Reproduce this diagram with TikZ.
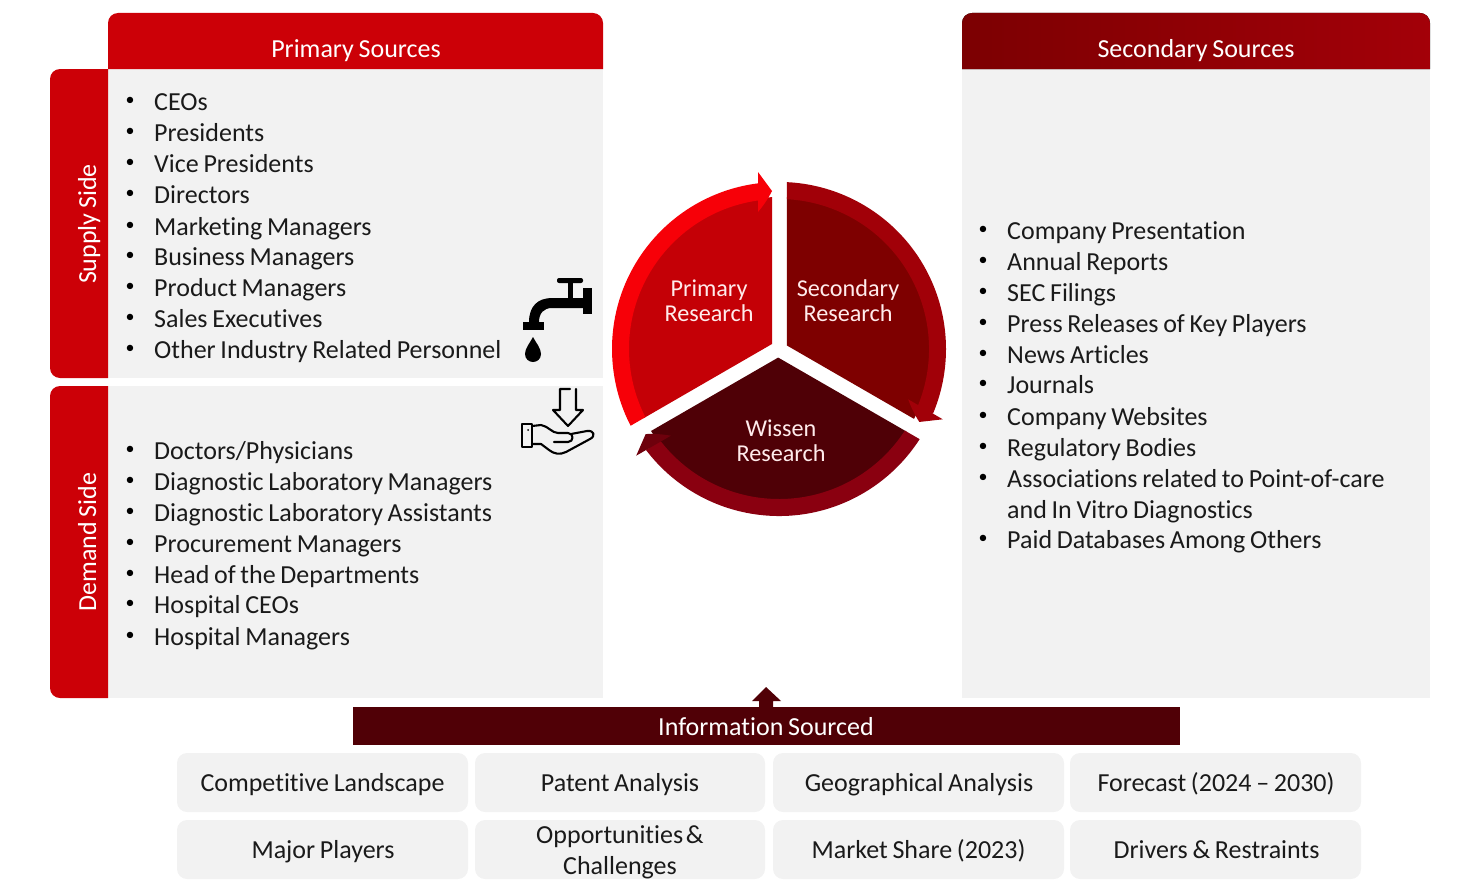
\documentclass[tikz,border=0pt]{standalone}
\usepackage{fontspec}
\setmainfont{Carlito}[WordSpace=0.8,Ligatures=CommonOff]
\definecolor{redA}{HTML}{CC0007}
\definecolor{darkbar}{HTML}{500006}
\definecolor{panel}{HTML}{F2F2F2}
\definecolor{secA}{HTML}{7C0002}
\definecolor{secB}{HTML}{A30008}
\definecolor{ink}{HTML}{1A1A1A}
\definecolor{wA}{HTML}{4F0006}
\definecolor{wB}{HTML}{8A0010}
\definecolor{wC}{HTML}{6E000C}
\definecolor{sA}{HTML}{7E0000}
\definecolor{sB}{HTML}{A10008}
\definecolor{pA}{HTML}{C40006}
\definecolor{pB}{HTML}{F70008}
\newcommand{\fs}{\fontsize{26}{31}\selectfont}
\newcommand{\li}[4]{%
  \node[bul] (#3b) at (#1-24,#2) {•};
  \node[item] (#3) at (#1,#2+9) {#4};}
% sector: rotation, inner, ring, head colours
\newcommand{\sector}[4]{%
  \begin{scope}[shift={(779,349)},rotate=#1]
    \begin{scope}
      \clip (-7,-5) -- (-7,-300) -- (-400,-300) -- (-400,195) -- (-353,195) -- cycle;
      \fill[#2] (0,0) circle[radius=152];
      \fill[#3] (130:167) arc[start angle=130,end angle=262.8,radius=167] -- (262.8:150) arc[start angle=262.8,end angle=130,radius=150] -- cycle;
    \end{scope}
    \fill[#4] (-21,-177) -- (-7,-158) .. controls (-11,-150) and (-16,-143) .. (-21,-137) -- (-21,-160) -- cycle;
  \end{scope}}
\tikzset{
  item/.style={anchor=base west,inner sep=0pt,text=ink,font=\fs},
  bul/.style={anchor=center,inner sep=0pt,text=black,font=\fontsize{18}{20}\selectfont},
  head/.style={text=white,font=\fs,inner sep=0pt,anchor=base},
  side/.style={text=white,font=\fs,inner sep=0pt,rotate=90,anchor=base},
  tile/.style={fill=panel,rounded corners=10pt,draw=none},
  tiletext/.style={text=ink,font=\fs,inner sep=0pt,anchor=base},
  sect/.style={text=white!92!red,font=\fontsize{24.2}{25}\selectfont,inner sep=0pt,align=center},
  icon/.style={line width=2.1pt,draw=black,line join=round,line cap=round}
}
\begin{document}
\begin{tikzpicture}[x=1pt,y=1pt,yscale=-1]
\useasboundingbox (0,0) rectangle (1474,883);
% panels
\fill[panel] (108,69) rectangle (603,378);
\fill[panel] (108,386) rectangle (603,698);
\fill[panel] (962,69) rectangle (1430,698);
% headers
\fill[redA] (108,69) -- (108,23) arc[start angle=180,end angle=270,radius=10] -- (593,13) arc[start angle=270,end angle=360,radius=10] -- (603,69) -- cycle;
\fill[redA] (108,69) -- (60,69) arc[start angle=270,end angle=180,radius=10] -- (50,368) arc[start angle=180,end angle=90,radius=10] -- (108,378) -- cycle;
\fill[redA] (108,386) -- (60,386) arc[start angle=270,end angle=180,radius=10] -- (50,688) arc[start angle=180,end angle=90,radius=10] -- (108,698) -- cycle;
\fill[left color=secA,right color=secB] (962,69) -- (962,23) arc[start angle=180,end angle=270,radius=10] -- (1420,13) arc[start angle=270,end angle=360,radius=10] -- (1430,69) -- cycle;
\node[head] (ps) at (356,57) {Primary Sources};
\node[head] (ss) at (1196,57) {Secondary Sources};
\node[side] (sup) at (96,224) {Supply Side};
\node[side] (dem) at (96,542) {Demand Side};
% primary list
\li{154}{101}{a1}{CEOs}
\li{154}{132}{a2}{Presidents}
\li{154}{163}{a3}{Vice Presidents}
\li{154}{194}{a4}{Directors}
\li{154}{226}{a5}{Marketing Managers}
\li{154}{256}{a6}{Business Managers}
\li{154}{287}{a7}{Product Managers}
\li{154}{318}{a8}{Sales Executives}
\li{154}{349}{a9}{Other Industry Related Personnel}
\li{154}{450}{b1}{Doctors/Physicians}
\li{154}{481}{b2}{Diagnostic Laboratory Managers}
\li{154}{512}{b3}{Diagnostic Laboratory Assistants}
\li{154}{543}{b4}{Procurement Managers}
\li{154}{574}{b5}{Head of the Departments}
\li{154}{604}{b6}{Hospital CEOs}
\li{154}{636}{b7}{Hospital Managers}
% secondary list
\li{1007}{230}{c1}{Company Presentation}
\li{1007}{261}{c2}{Annual Reports}
\li{1007}{292}{c3}{SEC Filings}
\li{1007}{323}{c4}{Press Releases of Key Players}
\li{1007}{354}{c5}{News Articles}
\li{1007}{384}{c6}{Journals}
\li{1007}{416}{c7}{Company Websites}
\li{1007}{447}{c8}{Regulatory Bodies}
\li{1007}{478}{c9}{Associations related to Point-of-care}
\node[item] (c9x) at (1007,518) {and In Vitro Diagnostics};
\li{1007}{539}{c10}{Paid Databases Among Others}
% faucet icon
\fill[black,rounded corners=2pt] (557,278) rectangle (583,283);
\fill[black] (568,280) rectangle (573,300);
\fill[black] (583,288) rectangle (592,314);
\fill[black] (584,298) -- (552,298) .. controls (538,298) and (529,306) .. (529,322) -- (539,322) .. controls (539,313) and (544,308) .. (552,308) -- (584,308) -- cycle;
\fill[black] (523,322) rectangle (544,330);
\fill[black] (533,337) .. controls (530,343) and (525,348) .. (525,354) .. controls (525,359) and (529,362) .. (533,362) .. controls (537,362) and (541,359) .. (541,354) .. controls (541,348) and (536,343) .. (533,337) -- cycle;
% hand icon
\draw[icon] (570,389) -- (560,389) -- (560,410) -- (553,410) -- (568,426) -- (583,410) -- (576,410) -- (576,389);
\draw[icon] (532,424) -- (522,424) -- (522,447) -- (532,447) -- cycle;
\draw[icon] (532,426) -- (541,425) .. controls (548,426) and (552,433) .. (558,433) -- (568,433) .. controls (574,433) and (574,442) .. (568,442) -- (554,442);
\draw[icon] (571,434) -- (587,431) .. controls (594,430) and (596,436) .. (590,439) -- (566,452) .. controls (560,455) and (554,454) .. (549,450) -- (541,444) -- (532,444);
\fill[black] (528,430) circle[radius=1];
% wheel
\sector{0}{fill=pA}{fill=pB}{fill=pB}
\sector{120}{fill=sA}{fill=sB}{fill=sB}
\sector{240}{fill=wA}{fill=wB}{fill=wC}
\node[sect] (pr) at (709,301) {Primary\\Research};
\node[sect] (sr) at (848,301) {Secondary\\Research};
\node[sect] (wr) at (781,441) {Wissen\\Research};
% info bar
\fill[darkbar] (759,707) -- (759,701) -- (752,701) -- (766,687) -- (781,701) -- (773,701) -- (773,707) -- cycle;
\fill[darkbar] (353,707) rectangle (1180,745);
\node[head] (inf) at (766,735) {Information Sourced};
% tiles
\fill[tile] (177,753) rectangle (468,812);
\fill[tile] (475,753) rectangle (765,812);
\fill[tile] (773,753) rectangle (1064,812);
\fill[tile] (1070,753) rectangle (1361,812);
\fill[tile] (177,820) rectangle (468,879);
\fill[tile] (475,820) rectangle (765,879);
\fill[tile] (773,820) rectangle (1064,879);
\fill[tile] (1070,820) rectangle (1361,879);
\node[tiletext] (t1) at (322.5,791) {Competitive Landscape};
\node[tiletext] (t2) at (620,791) {Patent Analysis};
\node[tiletext] (t3) at (919,791) {Geographical Analysis};
\node[tiletext] (t4) at (1216,791) {Forecast (2024 – 2030)};
\node[tiletext] (t5) at (323,858) {Major Players};
\node[tiletext] (t6a) at (620,843) {Opportunities\hspace{-2pt} \&};
\node[tiletext] (t6b) at (620,874) {Challenges};
\node[tiletext] (t7) at (918.5,858) {Market Share (2023)};
\node[tiletext] (t8) at (1216.5,858) {Drivers \& Restraints};
\end{tikzpicture}
\end{document}
